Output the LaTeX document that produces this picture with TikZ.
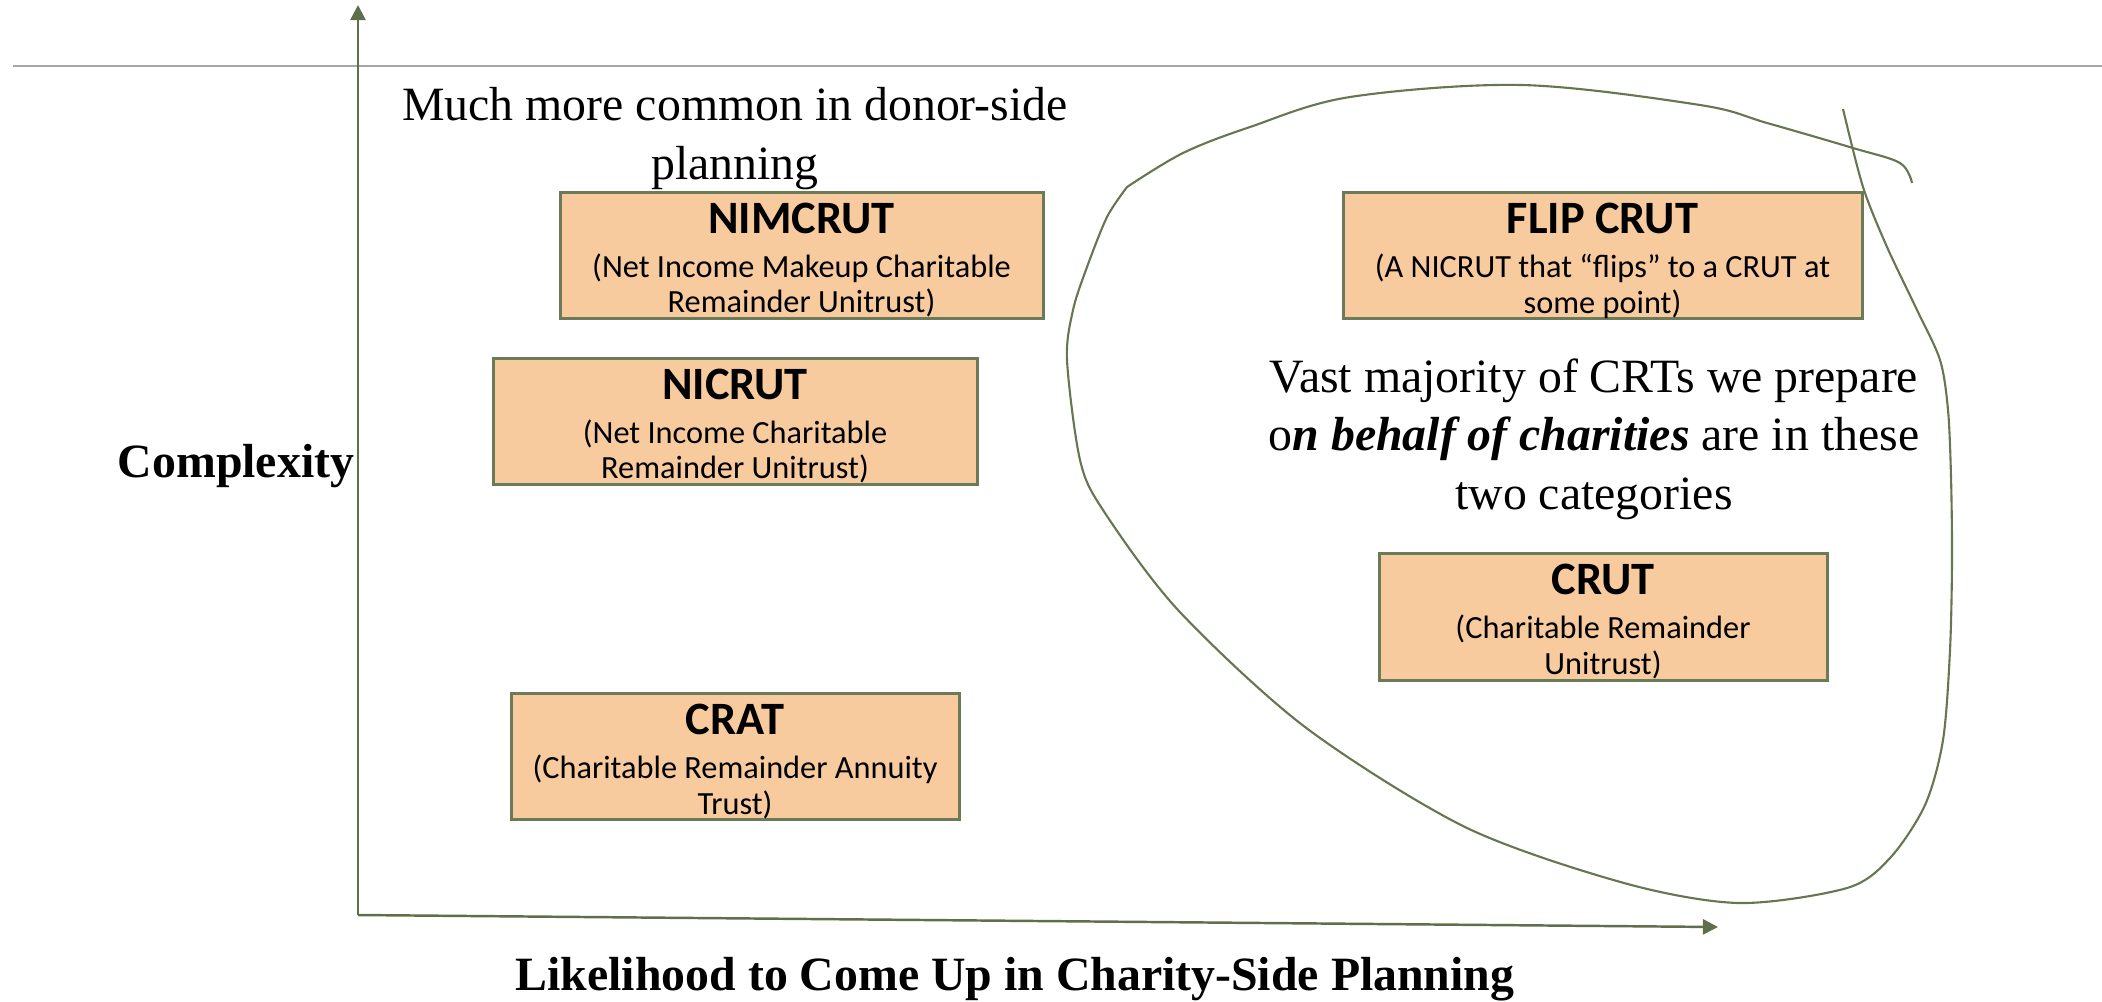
\documentclass[tikz,border=0pt]{standalone}
\usepackage{fontspec}
\setmainfont{Liberation Serif}
\newfontfamily\boxfont{Carlito}
\usetikzlibrary{calc}
\usetikzlibrary{arrows.meta}
\definecolor{boxfill}{HTML}{F8CB9E}
\definecolor{boxline}{HTML}{6B7B58}
\definecolor{axisgreen}{HTML}{5F6F4A}
\definecolor{loopgreen}{HTML}{66764F}
\newcommand{\crtname}[1]{{\fontsize{13.2}{15}\selectfont\bfseries\rule{0pt}{11.5pt}#1}}

\begin{document}
\begin{tikzpicture}[
  crt/.style={draw=boxline, fill=boxfill, line width=0.85pt, minimum height=1.26cm,
    align=center, inner sep=0pt, font=\boxfont\fontsize{9.2}{10.2}\selectfont},
  axis/.style={draw=axisgreen, line width=0.7pt, -{Triangle[length=4.3pt,width=4.3pt]}},
  note/.style={align=center, inner sep=0pt, font=\fontsize{13.6}{16.6}\selectfont},
  lbl/.style={inner sep=0pt, font=\bfseries\fontsize{13.6}{16}\selectfont}]
\useasboundingbox (0,0) rectangle (21.02,-10.01);
\coordinate(O) at (3.58,-9.15);
\coordinate(Y) at (3.58,-0.05);
\coordinate(X) at (17.18,-9.27);
\coordinate(G1) at (0.13,-0.66);
\coordinate(G2) at (21.02,-0.66);
\draw[gray!70, line width=0.6pt] (G1) -- (G2);
\draw[axis] (O) -- (Y);
\draw[axis] (O) -- (X);
\draw[loopgreen, line width=0.6pt]
  plot[smooth, tension=0.5] coordinates {(18.43,-1.09) (18.63,-1.87) (18.87,-2.47) (19.17,-3.10)
    (19.40,-3.60) (19.48,-4.10) (19.51,-4.77) (19.52,-5.60) (19.50,-6.50) (19.43,-7.40) (19.25,-8.05)
    (18.90,-8.58) (18.47,-8.88) (17.39,-9.03) (16.24,-8.83) (14.65,-8.27) (13.05,-7.27) (11.78,-6.10)
    (11.03,-5.10) (10.80,-4.60) (10.67,-3.60) (10.73,-3.10) (10.87,-2.67) (11.07,-2.17) (11.27,-1.87)}
  plot[smooth, tension=0.55] coordinates {(11.27,-1.87) (11.83,-1.53) (12.50,-1.27) (13.50,-0.97)
    (15.22,-0.85) (17.00,-1.05) (17.67,-1.23) (18.53,-1.48) (19.00,-1.63) (19.12,-1.83)};
\node[crt, minimum width=4.83cm] (NIM) at (8.015,-2.55)
  {\crtname{NIMCRUT}\\[2.3pt](Net Income Makeup Charitable\\Remainder Unitrust)};
\node[crt, minimum width=4.84cm] (NIC) at (7.35,-4.21)
  {\crtname{NICRUT}\\[2.3pt](Net Income Charitable\\Remainder Unitrust)};
\node[crt, minimum width=4.48cm] (CRAT) at (7.35,-7.565)
  {\crtname{CRAT}\\[2.3pt](Charitable Remainder Annuity\\Trust)};
\node[crt, minimum width=5.19cm] (FLIP) at (16.025,-2.555)
  {\crtname{FLIP CRUT}\\[2.3pt](A NICRUT that “flips” to a CRUT at\\some point)};
\node[crt, minimum width=4.48cm, minimum height=1.27cm] (CRUT) at (16.03,-6.165)
  {\crtname{CRUT}\\[2.3pt](Charitable Remainder\\Unitrust)};
\node[note] (D) at (7.35,-1.385) {Much more common in donor-side\\planning};
\node[note] (V) at (15.94,-4.39)
  {Vast majority of CRTs we prepare\\o\textbf{\textit{n behalf of charities}} are in these\\two categories};
\node[lbl, anchor=base] (C) at (2.36,-4.77) {Complexity};
\node[lbl, anchor=base] (L) at (10.15,-9.90) {Likelihood to Come Up in Charity-Side Planning};
\end{tikzpicture}
\end{document}
